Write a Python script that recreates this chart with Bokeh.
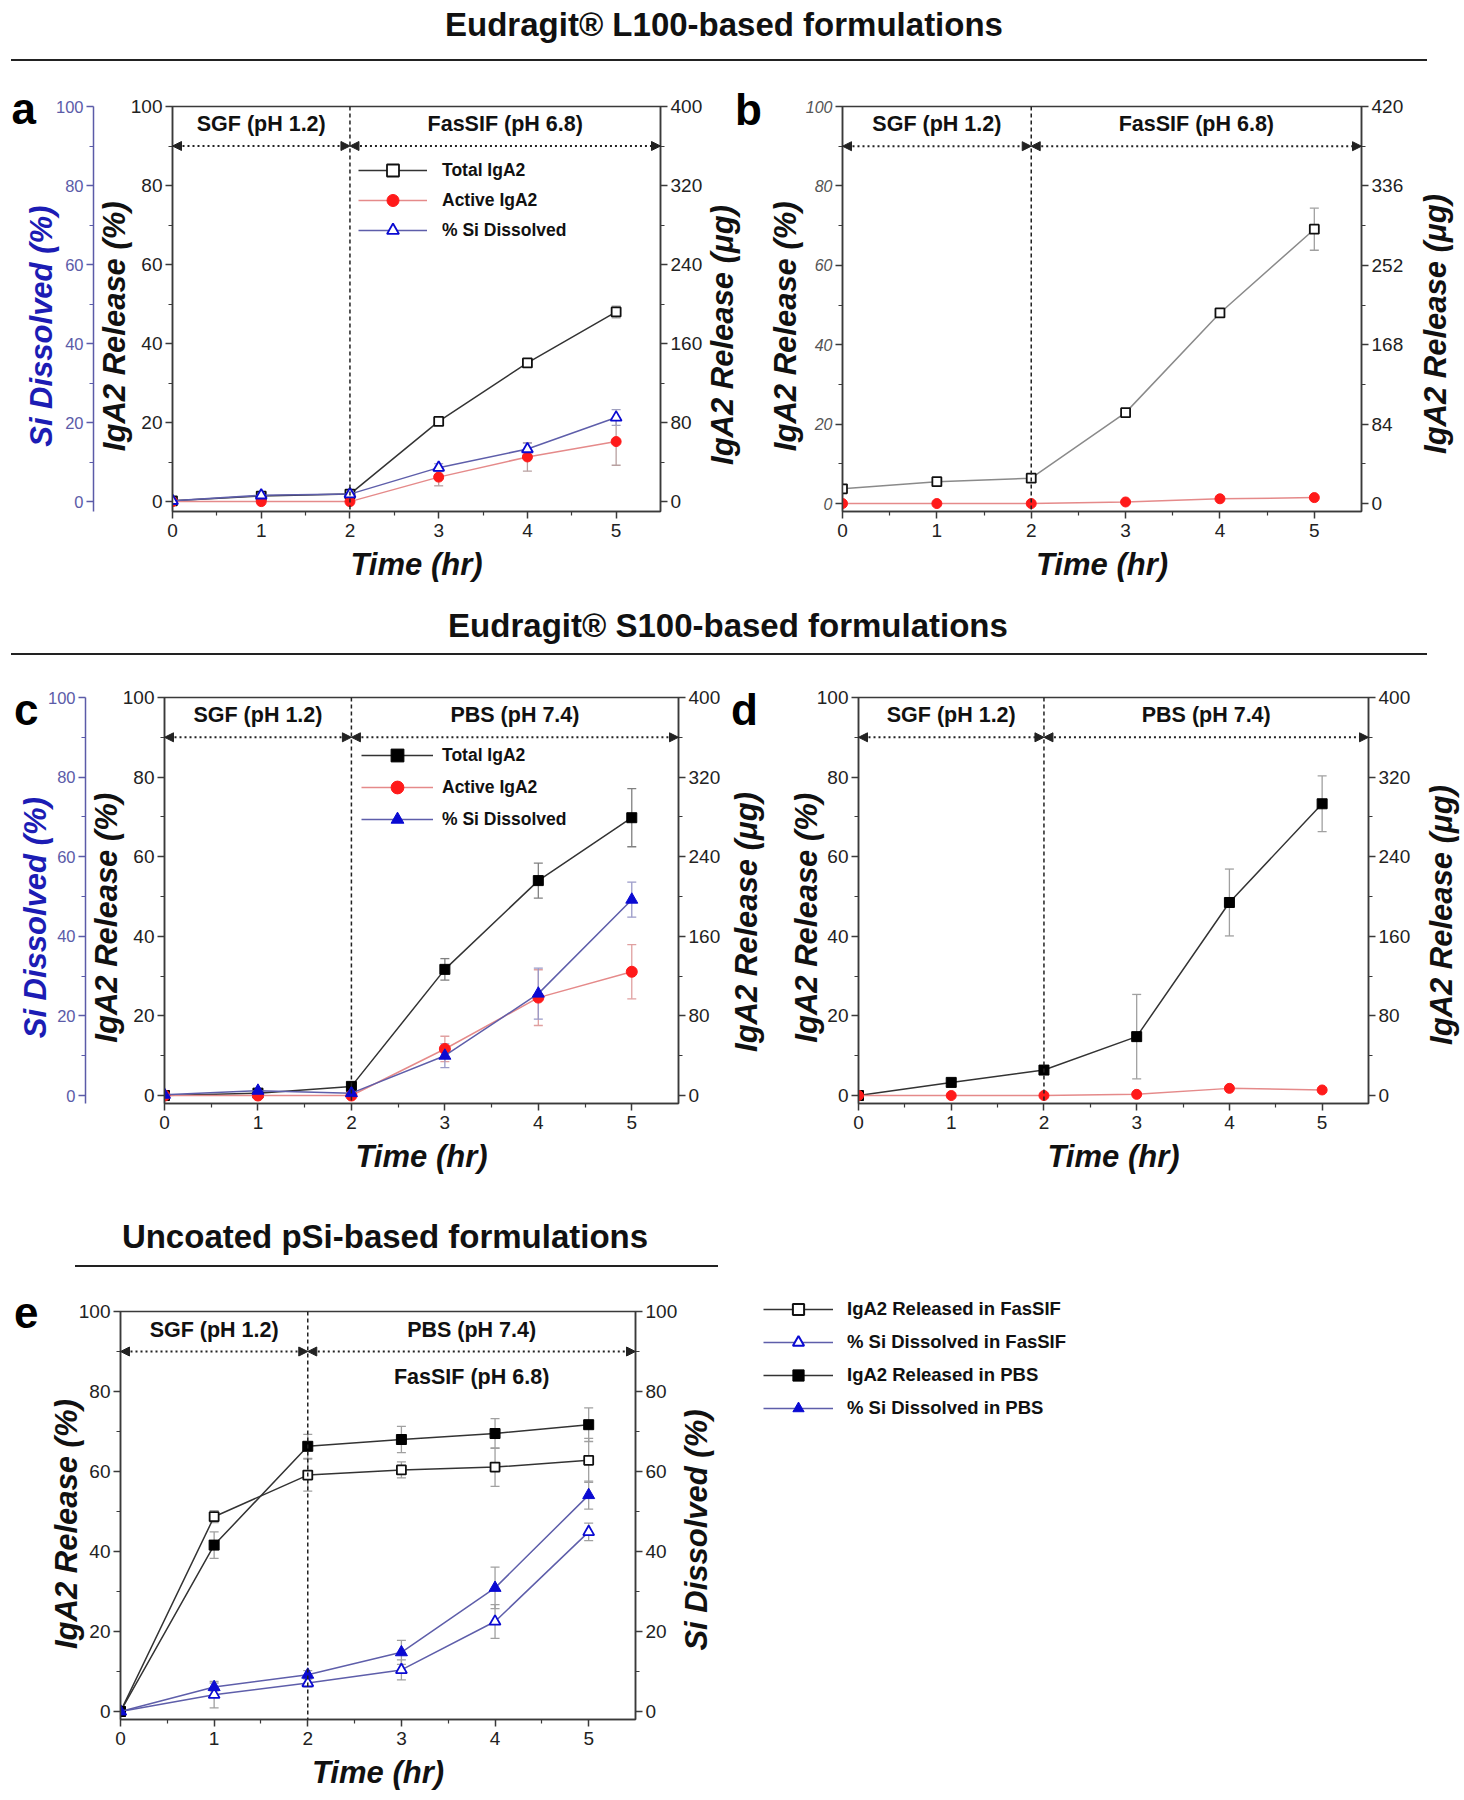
from bokeh.plotting import figure
from bokeh.models import (Range1d, LinearAxis, FixedTicker, Span, Arrow, NormalHead, Label,
                          Legend, LegendItem, Whisker, TeeHead, ColumnDataSource, Div)
from bokeh.layouts import column, row
from bokeh.embed import file_html
from bokeh.resources import INLINE

# ---------------- data ----------------
time_h = [0, 1, 2, 3, 4, 5]
x_ticks = [0, 1, 2, 3, 4, 5]
x_minor = [0.5, 1.5, 2.5, 3.5, 4.5]
pct_ticks = [0, 20, 40, 60, 80, 100]
pct_minor = [10, 30, 50, 70, 90]
ug_ticks_400 = [0, 80, 160, 240, 320, 400]
ug_minor_400 = [40, 120, 200, 280, 360]
ug_ticks_420 = [0, 84, 168, 252, 336, 420]
ug_minor_420 = [42, 126, 210, 294, 378]

# Panel a : Eudragit L100, SGF -> FasSIF
a_total = [0.2, 1.4, 1.9, 20.3, 35.1, 48.0]
a_total_err = [0, 0, 0, 0.6, 0.8, 1.5]
a_active = [0.0, 0.0, 0.0, 6.2, 11.3, 15.2]
a_active_err = [0, 0, 0, 2.2, 3.6, 6.0]
a_si = [0.2, 1.6, 1.9, 8.6, 13.3, 21.3]
a_si_err = [0, 0.4, 0.4, 1.0, 1.5, 2.0]

# Panel b : Eudragit L100 (second formulation)
b_total = [3.7, 5.5, 6.4, 22.9, 48.0, 69.1]
b_total_err = [0, 0, 0, 0.8, 1.0, 5.3]
b_active = [0.0, 0.0, 0.0, 0.4, 1.2, 1.5]

# Panel c : Eudragit S100, SGF -> PBS
c_total = [0.0, 0.6, 2.3, 31.7, 54.0, 69.8]
c_total_err = [0, 0, 0.5, 2.7, 4.4, 7.3]
c_active = [0.0, 0.0, 0.0, 11.7, 24.6, 31.1]
c_active_err = [0, 0, 0, 3.2, 7.0, 6.8]
c_si = [0.2, 1.2, 0.6, 10.0, 25.6, 49.2]
c_si_err = [0, 0, 0, 3.0, 6.4, 4.4]

# Panel d : Eudragit S100 (second formulation)
d_total = [0.0, 3.3, 6.4, 14.8, 48.5, 73.3]
d_total_err = [0, 0, 0, 10.6, 8.4, 7.0]
d_active = [0.0, 0.0, 0.0, 0.3, 1.8, 1.4]

# Panel e : uncoated pSi
e_iga_fassif = [0.0, 48.7, 59.1, 60.4, 61.1, 62.8]
e_iga_fassif_err = [0, 1.5, 4.0, 2.0, 4.8, 5.5]
e_si_fassif = [0.0, 4.2, 7.1, 10.4, 22.5, 44.9]
e_si_fassif_err = [0, 3.3, 1.0, 2.5, 4.2, 2.2]
e_iga_pbs = [0.0, 41.6, 66.3, 68.0, 69.5, 71.7]
e_iga_pbs_err = [0, 3.3, 3.0, 3.3, 3.7, 4.2]
e_si_pbs = [0.0, 6.1, 9.2, 14.8, 30.9, 54.1]
e_si_pbs_err = [0, 1.0, 1.0, 3.0, 5.2, 3.5]

phase_switch = 2
phase_end = 5.5
arrow_level = 90

# ---------------- style ----------------
FONT = "Liberation Sans"
CSS_FONT = "'Liberation Sans',Arial,sans-serif"
AX = "#3a3a3a"
TXT = "#222222"
BLACK_L = "#333333"
GRAY_L = "#8a8a8a"
RED_L = "#e58a8a"
RED_M = "#ff1a1a"
BLUE_L = "#5e5eaa"
BLUE_M = "#0a0ad2"
BLUE_AX = "#5b5ba8"
BLUE_TXT = "#1c1cb4"
ERR = "#a0a0a0"
LABEL_PX = 31
PAD = "\u00a0" * 4   # keeps the rotated axis titles slightly below the frame centre, as drawn


def style_axis(ax, ticks, minor, label, tick_size="19px", tick_color=TXT, line_color=AX,
               label_color="#111111", tick_style="normal", label_standoff=0):
    ax.ticker = FixedTicker(ticks=ticks, minor_ticks=minor)
    ax.axis_label = label
    ax.axis_label_text_font = FONT
    ax.axis_label_text_font_style = "bold italic"
    ax.axis_label_text_font_size = f"{LABEL_PX}px"
    ax.axis_label_text_color = label_color
    ax.axis_label_standoff = label_standoff
    ax.major_label_text_font = FONT
    ax.major_label_text_font_size = tick_size
    ax.major_label_text_color = tick_color
    ax.major_label_text_font_style = tick_style
    ax.major_label_standoff = 3
    ax.axis_line_color = line_color
    ax.axis_line_width = 1.5
    ax.major_tick_line_color = line_color
    ax.minor_tick_line_color = line_color
    ax.major_tick_line_width = 1.5
    ax.minor_tick_line_width = 1.2
    ax.major_tick_in = 0
    ax.major_tick_out = 7
    ax.minor_tick_in = 0
    ax.minor_tick_out = 4


def make_fig(w, h, bl, br, bt, bb, ymin):
    p = figure(width=w, height=h, x_range=Range1d(0, phase_end), y_range=Range1d(ymin, 100),
               output_backend="svg", toolbar_location=None,
               min_border_left=bl, min_border_right=br, min_border_top=bt, min_border_bottom=bb)
    p.grid.visible = False
    p.outline_line_color = AX
    p.outline_line_width = 1.5
    p.background_fill_color = "white"
    p.border_fill_alpha = 0
    style_axis(p.xaxis[0], x_ticks, x_minor, "Time (hr)")
    p.xaxis[0].axis_label_standoff = 7
    p.xaxis[0].major_label_standoff = 5
    return p


def add_right_axis(p, name, ymax, ticks, minor, ymin_pct):
    # the title of the right axis is drawn as rotated text in the neighbouring Div
    p.extra_y_ranges[name] = Range1d(ymin_pct * ymax / 100.0, ymax)
    ax = LinearAxis(y_range_name=name)
    style_axis(ax, ticks, minor, None)
    p.add_layout(ax, "right")
    return ax


def add_blue_axis(p, ymin, standoff):
    p.extra_y_ranges["si"] = Range1d(ymin, 100)
    ax = LinearAxis(y_range_name="si")
    style_axis(ax, pct_ticks, pct_minor, "Si Dissolved (%)" + PAD, tick_size="16.5px",
               tick_color=BLUE_AX, line_color=BLUE_AX, label_color=BLUE_TXT,
               label_standoff=standoff)
    p.add_layout(ax, "left")
    return ax


def add_phases(p, labels):
    p.add_layout(Span(location=phase_switch, dimension="height", line_color="#222222",
                      line_dash="4 3", line_width=1.5))
    for x0, x1 in [(0, phase_switch), (phase_switch, phase_end)]:
        p.add_layout(Arrow(start=NormalHead(size=9, fill_color="#222222", line_color="#222222"),
                           end=NormalHead(size=9, fill_color="#222222", line_color="#222222"),
                           x_start=x0, y_start=arrow_level, x_end=x1, y_end=arrow_level,
                           line_dash="2 3", line_width=2, line_color="#222222"))
    for text, x, y in labels:
        p.add_layout(Label(x=x, y=y, text=text, text_align="center", text_baseline="middle",
                           text_font=FONT, text_font_style="bold", text_font_size="21.5px",
                           text_color="#111111"))


def add_err(p, ys, errs, color, range_name=None):
    xs = [t for t, e in zip(time_h, errs) if e > 0]
    lo = [y - e for y, e in zip(ys, errs) if e > 0]
    hi = [y + e for y, e in zip(ys, errs) if e > 0]
    if not xs:
        return
    src = ColumnDataSource(dict(base=xs, lower=lo, upper=hi))
    w = Whisker(source=src, base="base", lower="lower", upper="upper", line_color=color,
                line_width=1.3, level="underlay",
                upper_head=TeeHead(size=9, line_color=color, line_width=1.3),
                lower_head=TeeHead(size=9, line_color=color, line_width=1.3))
    if range_name:
        w.y_range_name = range_name
    p.add_layout(w)


def series(p, xs, ys, line_color, marker, size, fill, edge, lw_marker=1.8, range_name="default"):
    l = p.line(xs, ys, line_color=line_color, line_width=1.5, y_range_name=range_name)
    s = p.scatter(xs, ys, marker=marker, size=size, fill_color=fill, line_color=edge,
                  line_width=lw_marker, y_range_name=range_name)
    return l, s


def make_legend(p, items, vx, vy, gw, gh, standoff, spacing=0, font="17.5px"):
    lg = Legend(items=[LegendItem(label=t, renderers=list(r)) for t, r in items],
                location=(vx, vy), orientation="vertical", border_line_alpha=0,
                background_fill_alpha=0, padding=0, margin=0, spacing=spacing,
                glyph_width=gw, glyph_height=gh, label_height=gh, label_standoff=standoff,
                label_text_font=FONT, label_text_font_style="bold", label_text_font_size=font,
                label_text_color="#111111", label_text_baseline="middle")
    p.add_layout(lg)


def header_div(title, width, height, text_cx, text_cy, line_y, line_left, line_width):
    html = (f'<div style="position:relative;width:{width}px;height:{height}px;">'
            f'<div style="position:absolute;left:{text_cx - 400}px;width:800px;top:{text_cy - 20}px;'
            f'height:40px;line-height:40px;text-align:center;font-family:{CSS_FONT};'
            f'font-weight:bold;font-size:33px;color:#111;white-space:nowrap;">{title}</div>'
            f'<div style="position:absolute;left:{line_left}px;width:{line_width}px;top:{line_y - 1}px;'
            f'height:2px;background:#222;"></div></div>')
    d = Div(text=html, width=width, height=height, margin=0)
    d.styles = {"overflow": "visible"}
    return d


def side_div(width, height, label, cx, cy, letter, letter_left, letter_top):
    html = (f'<div style="position:relative;width:{width}px;height:{height}px;overflow:visible;">'
            f'<div style="position:absolute;left:{cx}px;top:{cy}px;'
            f'transform:translate(-50%,-50%) rotate(-90deg);white-space:nowrap;'
            f'font-family:{CSS_FONT};font-weight:bold;font-style:italic;font-size:{LABEL_PX}px;'
            f'line-height:1;color:#111;">{label}</div>'
            f'<div style="position:absolute;left:{letter_left}px;top:{letter_top}px;'
            f'font-family:{CSS_FONT};font-weight:bold;font-size:44px;line-height:44px;'
            f'color:#000;">{letter}</div></div>')
    d = Div(text=html, width=width, height=height, margin=0)
    d.styles = {"overflow": "visible", "z-index": "5"}
    return d


UG = "IgA2 Release (μg)"
PCT = "IgA2 Release (%)" + PAD

# ---------------- panel a ----------------
pa = make_fig(705, 515, 172, 45, 31, 79, -2.5)
style_axis(pa.yaxis[0], pct_ticks, pct_minor, PCT, label_standoff=-4)
add_blue_axis(pa, -2.5, -6)
add_right_axis(pa, "ug", 400, ug_ticks_400, ug_minor_400, -2.5)
add_phases(pa, [("SGF (pH 1.2)", 1, 95.5), ("FasSIF (pH 6.8)", 3.75, 95.5)])
add_err(pa, a_total, a_total_err, ERR)
add_err(pa, a_active, a_active_err, "#b8a0a0")
add_err(pa, a_si, a_si_err, "#a0a0c0", "si")
la_t = series(pa, time_h, a_total, BLACK_L, "square", 9, "white", "#111111", 1.8)
la_a = series(pa, time_h, a_active, RED_L, "circle", 10, RED_M, RED_M, 1)
la_s = series(pa, time_h, a_si, BLUE_L, "triangle", 11, "white", BLUE_M, 1.8, "si")
make_legend(pa, [("Total IgA2", la_t), ("Active IgA2", la_a), ("% Si Dissolved", la_s)],
            186, 266, 69, 30, 15)
da = side_div(35, 515, UG, 17, 260, "a", -693.5, 11.7)

# ---------------- panel b ----------------
pb = make_fig(673, 515, 102, 52, 29, 75, -2)
style_axis(pb.yaxis[0], pct_ticks, pct_minor, PCT, tick_size="16px",
           tick_color="#555555", tick_style="italic")
add_right_axis(pb, "ug", 420, ug_ticks_420, ug_minor_420, -2)
add_phases(pb, [("SGF (pH 1.2)", 1, 95.5), ("FasSIF (pH 6.8)", 3.75, 95.5)])
add_err(pb, b_total, b_total_err, ERR)
series(pb, time_h, b_total, GRAY_L, "square", 9, "white", "#111111", 1.8)
series(pb, time_h, b_active, RED_L, "circle", 10, RED_M, RED_M, 1)
db = side_div(51, 515, UG, 22, 249, "b", -678, 12.7)

# ---------------- panel c ----------------
pc = make_fig(725, 522, 164, 47, 29, 85, -2)
style_axis(pc.yaxis[0], pct_ticks, pct_minor, PCT, label_standoff=-4)
add_blue_axis(pc, -2, -8)
add_right_axis(pc, "ug", 400, ug_ticks_400, ug_minor_400, -2)
add_phases(pc, [("SGF (pH 1.2)", 1, 95.5), ("PBS (pH 7.4)", 3.75, 95.5)])
add_err(pc, c_total, c_total_err, "#808080")
add_err(pc, c_active, c_active_err, "#e0a0a0")
add_err(pc, c_si, c_si_err, "#9a9ac8", "si")
lc_t = series(pc, time_h, c_total, BLACK_L, "square", 10, "#000000", "#000000", 1)
lc_a = series(pc, time_h, c_active, RED_L, "circle", 11, RED_M, RED_M, 1)
lc_s = series(pc, time_h, c_si, BLUE_L, "triangle", 12, BLUE_M, BLUE_M, 1, "si")
make_legend(pc, [("Total IgA2", lc_t), ("Active IgA2", lc_a), ("% Si Dissolved", lc_s)],
            197, 268, 72, 32, 9)
dc = side_div(42, 522, UG, 21, 254, "c", -711, 20.4)

# ---------------- panel d ----------------
pd_ = make_fig(653, 522, 91, 52, 29, 87, -2)
style_axis(pd_.yaxis[0], pct_ticks, pct_minor, PCT, label_standoff=-10)
add_right_axis(pd_, "ug", 400, ug_ticks_400, ug_minor_400, -2)
add_phases(pd_, [("SGF (pH 1.2)", 1, 95.5), ("PBS (pH 7.4)", 3.75, 95.5)])
add_err(pd_, d_total, d_total_err, ERR)
series(pd_, time_h, d_total, BLACK_L, "square", 10, "#000000", "#000000", 1)
series(pd_, time_h, d_active, RED_L, "circle", 10, RED_M, RED_M, 1)
dd = side_div(44, 522, UG, 21, 247, "d", -689, 20.4)

# ---------------- panel e ----------------
pe = make_fig(680, 515, 120, 44, 26, 81, -2)
style_axis(pe.yaxis[0], pct_ticks, pct_minor, "IgA2 Release (%)" + "\u00a0" * 2,
           label_standoff=-8)
add_right_axis(pe, "si", 100, pct_ticks, pct_minor, -2)
add_phases(pe, [("SGF (pH 1.2)", 1, 95.5), ("PBS (pH 7.4)", 3.75, 95.5),
                ("FasSIF (pH 6.8)", 3.75, 83.6)])
add_err(pe, e_iga_fassif, e_iga_fassif_err, ERR)
add_err(pe, e_iga_pbs, e_iga_pbs_err, ERR)
add_err(pe, e_si_fassif, e_si_fassif_err, ERR, "si")
add_err(pe, e_si_pbs, e_si_pbs_err, ERR, "si")
series(pe, time_h, e_iga_fassif, BLACK_L, "square", 9, "white", "#111111", 1.8)
series(pe, time_h, e_si_fassif, BLUE_L, "triangle", 11, "white", BLUE_M, 1.8, "si")
series(pe, time_h, e_iga_pbs, BLACK_L, "square", 10, "#000000", "#000000", 1)
series(pe, time_h, e_si_pbs, BLUE_L, "triangle", 12, BLUE_M, BLUE_M, 1, "si")
de = side_div(40, 515, "Si Dissolved (%)", 16, 245, "e", -666, 5.7)

# legend of panel e, drawn beside the plot as in the figure: a legend-only canvas whose
# ranges keep the (same) series out of view, so that only the legend entries show
pl = figure(width=744, height=610, output_backend="svg", toolbar_location=None,
            x_range=Range1d(100, 101), y_range=Range1d(1000, 1001), min_border=0,
            x_axis_location=None, y_axis_location=None)
pl.grid.visible = False
pl.outline_line_color = None
pl.border_fill_alpha = 0
pl.background_fill_alpha = 0
lg_1 = series(pl, time_h, e_iga_fassif, BLACK_L, "square", 9, "white", "#111111", 2)
lg_2 = series(pl, time_h, e_si_fassif, BLUE_L, "triangle", 11, "white", BLUE_M, 2)
lg_3 = series(pl, time_h, e_iga_pbs, BLACK_L, "square", 10, "#000000", "#000000", 1)
lg_4 = series(pl, time_h, e_si_pbs, BLUE_L, "triangle", 12, BLUE_M, BLUE_M, 1)
make_legend(pl, [("IgA2 Released in FasSIF", lg_1), ("% Si Dissolved in FasSIF", lg_2),
                 ("IgA2 Released in PBS", lg_3), ("% Si Dissolved in PBS", lg_4)],
            43, 378, 70, 28, 14, spacing=5, font="18.5px")

# ---------------- layout ----------------
h1 = header_div("Eudragit® L100-based formulations", 1464, 75, 724, 25, 60, 11, 1416)
h2 = header_div("Eudragit® S100-based formulations", 1464, 78, 728, 36, 64, 11, 1416)
h3 = header_div("Uncoated pSi-based formulations", 720, 95, 385, 47, 76, 75, 643)

page = column(h1, row(pa, da, pb, db, spacing=0), h2, row(pc, dc, pd_, dd, spacing=0),
              row(column(h3, row(pe, de, spacing=0), spacing=0), pl, spacing=0), spacing=0)

open("out.html", "w").write(file_html(page, INLINE))
